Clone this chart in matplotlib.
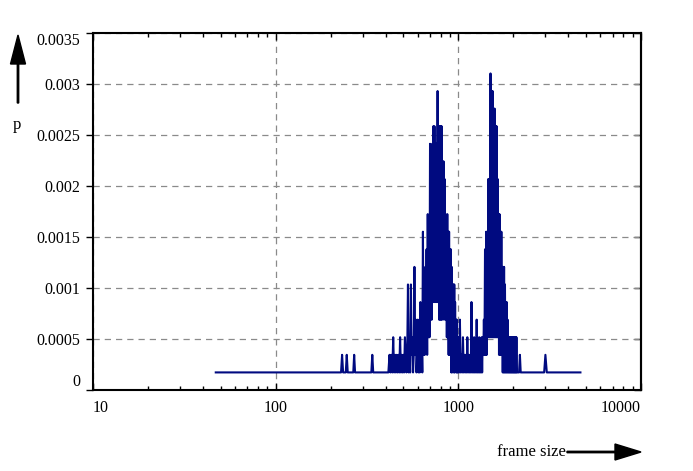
import matplotlib
matplotlib.use("Agg")
import matplotlib.pyplot as plt
import numpy as np
from matplotlib.patches import FancyArrow
from matplotlib.transforms import IdentityTransform

# ---------------- data (frame-size histogram) ----------------
total_frames = 5800  # one observation = 1/5800 probability

# sparse low tail
sizes_left = [47, 228, 231, 234, 242, 245, 248, 266, 269, 272, 334, 338, 342, 414]
counts_left = [1, 1, 2, 1, 1, 2, 1, 1, 2, 1, 1, 2, 1, 1]

# foothills before the first peak (bins of 5 bytes, 420..595)
sizes_a = np.arange(420, 600, 5)
counts_a = [2, 1, 2, 1, 3, 1, 2, 1, 2, 1,
            2, 1, 3, 1, 2, 1, 2, 1, 3, 2,
            1, 2, 6, 1, 2, 1, 6, 2, 3, 1,
            2, 7, 2, 4, 1, 2]

# first peak (bins of 5 bytes, 600..995)
sizes_b = np.arange(600, 1000, 5)
counts_b = [4, 1, 2, 1, 5, 2, 3, 1, 9, 2,
            6, 2, 7, 3, 8, 2, 10, 3, 9, 3,
            14, 4, 13, 4, 14, 5, 15, 5, 15, 5,
            14, 5, 14, 5, 17, 5, 15, 4, 15, 4,
            15, 4, 15, 4, 13, 5, 13, 4, 12, 5,
            10, 4, 9, 3, 10, 3, 9, 2, 9, 2,
            8, 2, 8, 1, 7, 1, 6, 2, 6, 1,
            6, 1, 5, 2, 4, 1, 4, 1, 3, 1]

# valley and second peak (bins of 10 bytes, 1000..2100)
sizes_c = np.arange(1000, 2101, 10)
counts_c = [3, 1, 4, 1, 2, 1, 3, 1, 2, 1,
            2, 1, 3, 1, 2, 1, 2, 1, 5, 1,
            2, 1, 3, 1, 2, 1, 4, 1, 2, 1,
            3, 1, 2, 1, 3, 1, 3, 2,
            4, 2, 8, 2, 9, 2, 9, 3, 12, 3,
            12, 3, 18, 3, 17, 3, 17, 3, 16, 3,
            16, 3, 15, 3, 15, 3, 12, 3, 10, 2,
            10, 2, 9, 2, 9, 2, 7, 1, 7, 1,
            7, 1, 6, 1, 5, 1, 5, 1, 4, 1,
            3, 1, 3, 1,
            3, 1, 3, 1, 3, 1, 3, 1, 3, 1,
            3, 1, 3, 1, 3, 1, 3, 1, 1]

# sparse high tail
sizes_right = [2150, 2173, 2195, 2950, 2997, 3050, 4660]
counts_right = [1, 2, 1, 1, 2, 1, 1]

y_ticks = [0, 0.0005, 0.001, 0.0015, 0.002, 0.0025, 0.003, 0.0035]
y_labels = ["0", "0.0005", "0.001", "0.0015", "0.002", "0.0025", "0.003", "0.0035"]
x_ticks = [10, 100, 1000, 10000]
x_labels = ["10", "100", "1000", "10000"]

sizes = np.concatenate([sizes_left, sizes_a, sizes_b, sizes_c, sizes_right])
counts = np.concatenate([counts_left, counts_a, counts_b, counts_c, counts_right])
prob = counts / total_frames

# ---------------- figure ----------------
plt.rcParams["font.family"] = ["Liberation Serif", "DejaVu Serif"]
W, H = 693, 471
fig = plt.figure(figsize=(W / 100, H / 100), dpi=100)
ax = fig.add_axes([93 / W, (H - 390) / H, 548 / W, 357 / H])

ax.plot(sizes, prob, color="#000a80", lw=1.5)

ax.set_xscale("log")
ax.set_xlim(10, 10000)
ax.set_ylim(0, 0.0035)

ax.set_xticks(x_ticks, x_labels)
ax.set_yticks(y_ticks, y_labels)

ax.grid(True, which="major", color="#8a8a8a", linestyle=(0, (5, 4)), linewidth=0.9)

for s in ax.spines.values():
    s.set_linewidth(1.5)

ax.tick_params(axis="x", which="both", direction="in", top=True, bottom=True,
               labelsize=11.5, pad=7, width=1.0)
ax.tick_params(axis="x", which="major", length=5)
ax.tick_params(axis="x", which="minor", length=3)
ax.tick_params(axis="y", which="both", direction="out", left=True, right=False,
               labelsize=11.5, pad=4, length=5, width=1.0)

# end labels kept inside the frame extent, as in the original
xl = ax.get_xticklabels()
xl[0].set_ha("left")
xl[-1].set_ha("right")
yl = ax.get_yticklabels()
yl[0].set_va("bottom")
yl[-1].set_va("top")

sec = ax.secondary_yaxis("right")
sec.set_yticks(y_ticks)
sec.tick_params(direction="in", length=5, width=1.0, labelright=False)
sec.spines["right"].set_linewidth(1.5)

# axis captions with arrows
fig.text(17 / W, (H - 125) / H, "p", ha="center", va="center", fontsize=12)
fig.text(566 / W, (H - 452) / H, "frame size", ha="right", va="center", fontsize=12)

arr_h = FancyArrow(567, H - 452, 74, 0, width=1.4, head_width=16, head_length=26,
                   length_includes_head=True, color="black", transform=IdentityTransform())
arr_v = FancyArrow(18, H - 103, 0, 68, width=1.4, head_width=15, head_length=29,
                   length_includes_head=True, color="black", transform=IdentityTransform())
fig.add_artist(arr_h)
fig.add_artist(arr_v)

fig.savefig("out.png", dpi=100)
